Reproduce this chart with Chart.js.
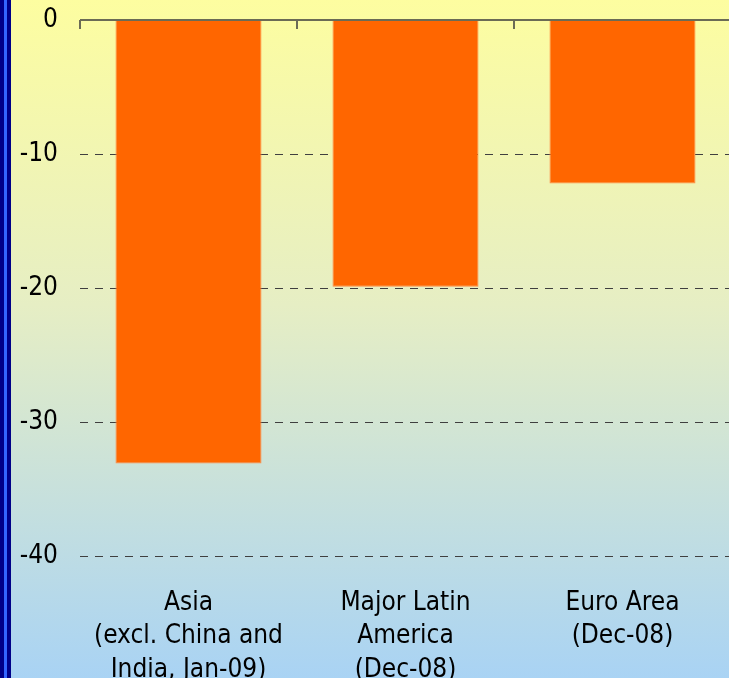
<!DOCTYPE html>
<html>
<head>
    <title>Change in exports</title>
    <script src="https://cdn.jsdelivr.net/npm/chart.js"></script>
    <style>
        html, body {
            margin: 0;
            padding: 0;
            width: 729px;
            height: 678px;
            overflow: hidden;
        }
        body {
            background: linear-gradient(to bottom, #FDFDA0 0%, #E6EEC4 45%, #A9D3F4 100%);
            position: relative;
        }
        /* slide frame on the left edge */
        .frame {
            position: absolute;
            left: 0; top: 0;
            width: 4px; height: 678px;
            background: #000088;
            border-right: 3px solid #3366FF;
        }
        .frame2 {
            position: absolute;
            left: 7px; top: 0;
            width: 4px; height: 678px;
            background: #000088;
        }
        .chart-box {
            position: absolute;
            left: 0; top: 0;
            width: 731px;
            height: 678px;
        }
    </style>
</head>
<body>
    <div class="chart-box"><canvas id="chart"></canvas></div>
    <div class="frame"></div>
    <div class="frame2"></div>

    <script>
        const categories = [
            ['Asia', '(excl. China and', 'India, Jan-09)'],
            ['Major Latin', 'America', '(Dec-08)'],
            ['Euro Area', '(Dec-08)']
        ];
        const values = [-33.1, -19.9, -12.2];
        const yTicks = [0, -10, -20, -30, -40];

        const FONT = "'DejaVu Sans Condensed', 'DejaVu Sans', sans-serif";

        // solid zero line with small tick marks between categories
        const zeroAxis = {
            id: 'zeroAxis',
            afterDatasetsDraw(chart) {
                const {ctx, chartArea, scales} = chart;
                const y0 = scales.y.getPixelForValue(0);
                const n = categories.length;
                const w = (chartArea.right - chartArea.left) / n;
                ctx.save();
                ctx.strokeStyle = '#6b6b55';
                ctx.lineWidth = 2;
                ctx.beginPath();
                ctx.moveTo(chartArea.left, y0);
                ctx.lineTo(chartArea.right, y0);
                for (let i = 0; i <= n; i++) {
                    const x = Math.round(chartArea.left + i * w);
                    ctx.moveTo(x, y0);
                    ctx.lineTo(x, y0 + 9);
                }
                ctx.stroke();
                ctx.restore();
            }
        };

        new Chart(document.getElementById('chart'), {
            type: 'bar',
            data: {
                labels: categories,
                datasets: [{
                    data: values,
                    backgroundColor: '#FF6600',
                    borderColor: '#FF8A45',
                    borderWidth: 1,
                    barPercentage: 0.673,
                    categoryPercentage: 1
                }]
            },
            options: {
                responsive: true,
                maintainAspectRatio: false,
                animation: false,
                layout: {padding: {top: 20, right: 0, left: 0, bottom: 0}},
                plugins: {
                    legend: {display: false},
                    tooltip: {enabled: false}
                },
                scales: {
                    x: {
                        position: 'bottom',
                        grid: {display: false},
                        border: {display: false},
                        ticks: {
                            color: '#000',
                            padding: 22,
                            maxRotation: 0,
                            autoSkip: false,
                            font: {family: FONT, size: 26, lineHeight: 1.3}
                        },
                        afterFit(scale) { scale.height = 122; }
                    },
                    y: {
                        min: -40,
                        max: 0,
                        afterBuildTicks(scale) {
                            scale.ticks = yTicks.map(v => ({value: v}));
                        },
                        grid: {
                            color: ctx => ctx.tick && ctx.tick.value === 0 ? 'rgba(0,0,0,0)' : '#3f3f3f',
                            lineWidth: 1,
                            drawTicks: false
                        },
                        border: {display: false, dash: [8, 7]},
                        ticks: {
                            color: '#000',
                            padding: 22,
                            font: {family: FONT, size: 26}
                        },
                        afterFit(scale) {
                            scale.width = 80;
                            scale.paddingTop = 0;
                            scale.paddingBottom = 0;
                        }
                    }
                }
            },
            plugins: [zeroAxis]
        });
    </script>
</body>
</html>
